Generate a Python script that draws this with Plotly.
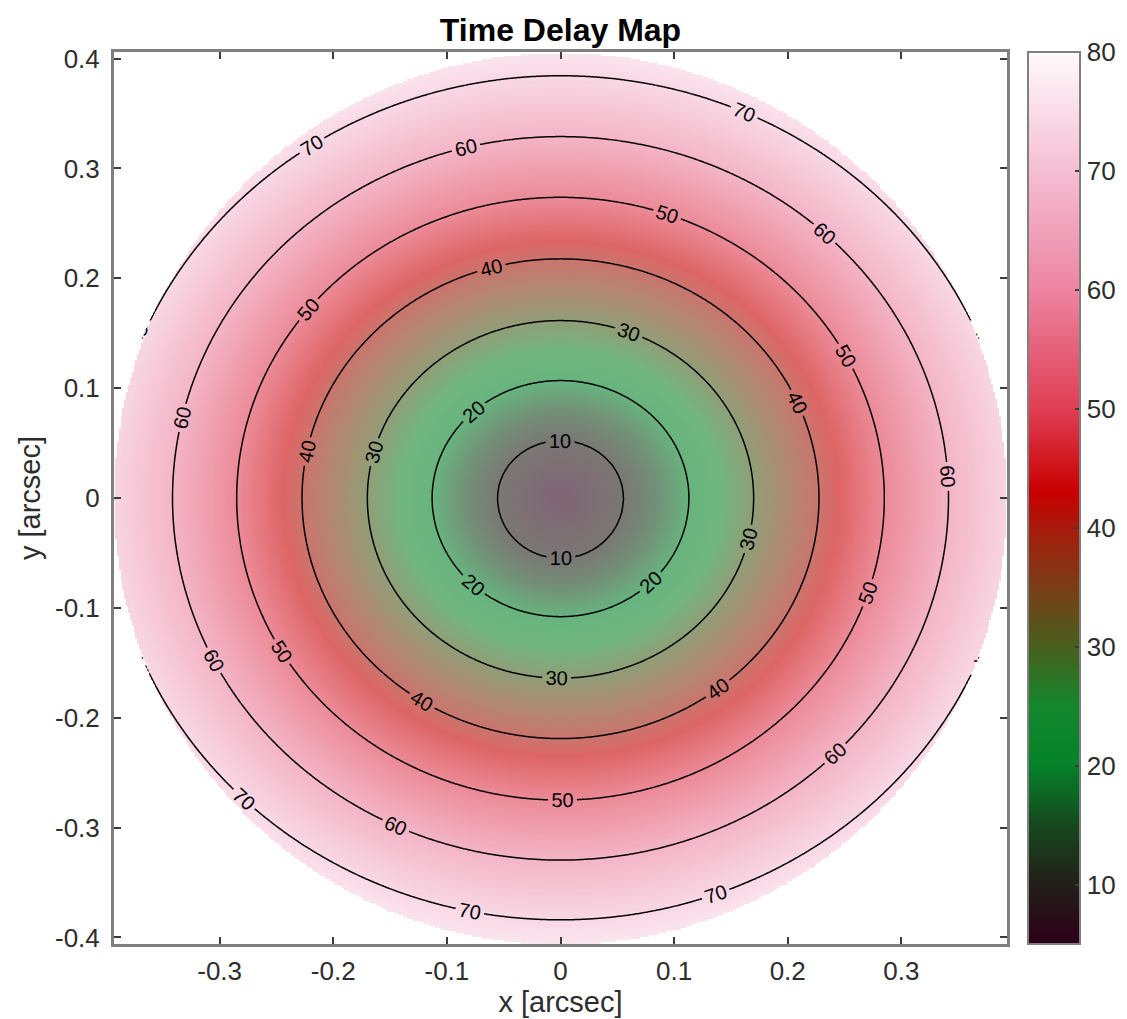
import numpy as np
import plotly.graph_objects as go

# Time-delay contour levels and the semi-axes of each contour ellipse [arcsec]
levels = [10, 20, 30, 40, 50, 60, 70]
semi_x = [0.0555, 0.113, 0.170, 0.2275, 0.285, 0.3415, 0.398]
semi_y_top = [0.0523, 0.1069, 0.1615, 0.2177, 0.2737, 0.329, 0.3844]
semi_y_bottom = [0.055, 0.108, 0.164, 0.219, 0.275, 0.3296, 0.384]
center_delay = 4.5

# Map extent (field of view is the inscribed ellipse of the box)
x_half = 0.393
y_half = 0.406

# Colour bar anchors (delay value, rgb)
cmap_values = [5, 10, 15, 20, 25, 30, 35, 40, 43, 50, 60, 70, 80]
cmap_colors = [
    (45, 0, 25), (35, 30, 25), (22, 72, 30), (4, 130, 42), (20, 135, 45),
    (72, 95, 30), (122, 62, 22), (168, 26, 12), (200, 0, 0), (224, 62, 84),
    (237, 132, 162), (245, 190, 211), (255, 250, 252),
]

x_ticks = [-0.3, -0.2, -0.1, 0, 0.1, 0.2, 0.3]
x_tick_text = ["-0.3", "-0.2", "-0.1", "0", "0.1", "0.2", "0.3"]
y_ticks = [-0.4, -0.3, -0.2, -0.1, 0, 0.1, 0.2, 0.3, 0.4]
y_tick_text = ["-0.4", "-0.3", "-0.2", "-0.1", "0", "0.1", "0.2", "0.3", "0.4"]
cb_ticks = [10, 20, 30, 40, 50, 60, 70, 80]

# ---- build the delay field on a grid: piecewise-linear along rays between contour ellipses
xs = np.linspace(-x_half, x_half, 481)
ys = np.linspace(-y_half, y_half, 497)
X, Y = np.meshgrid(xs, ys)
R = np.hypot(X, Y)
Rs = np.where(R == 0, 1e-9, R)
cos_t, sin_t = X / Rs, Y / Rs

radii = [np.zeros_like(R)]
for a, bt, bb in zip(semi_x, semi_y_top, semi_y_bottom):
    b = np.where(Y >= 0, bt, bb)
    radii.append(1.0 / np.sqrt((cos_t / a) ** 2 + (sin_t / b) ** 2))
vals = [center_delay] + levels

Z = np.empty_like(R)
for i in range(len(vals) - 1):
    r0, r1 = radii[i], radii[i + 1]
    seg = (R >= r0) & (R < r1)
    Z[seg] = (vals[i] + (vals[i + 1] - vals[i]) * (R - r0) / (r1 - r0))[seg]
r0, r1 = radii[-2], radii[-1]
outer = R >= r1
Z[outer] = (vals[-1] + (vals[-1] - vals[-2]) * (R - r1) / (r1 - r0))[outer]
Z = np.round(Z, 2)

rho = np.sqrt((X / x_half) ** 2 + (Y / y_half) ** 2)
Z_map = np.where(rho <= 1.0, Z, np.nan)
# contour lines get a sliver of extra room so they run right up to the rim
Z_lines = np.where(rho <= 1.004, Z, np.nan)

lo, hi = cmap_values[0], cmap_values[-1]
colorscale = [[(v - lo) / (hi - lo), "rgb(%d,%d,%d)" % c] for v, c in zip(cmap_values, cmap_colors)]

font_family = "Liberation Sans, Arial, sans-serif"
axis_grey = "rgb(128,128,128)"
text_grey = "rgb(45,45,45)"

# contour level list runs far below the data range: those empty levels only
# tighten plotly's label spacing so each ring carries several labels
step = levels[1] - levels[0]
label_start = levels[-1] - 71 * step

fig = go.Figure()
fig.add_trace(go.Heatmap(
    x=xs, y=ys, z=Z_map, zmin=lo, zmax=hi, colorscale=colorscale,
    opacity=0.6, zsmooth="best", hoverinfo="skip",
    colorbar=dict(
        x=1.0235, xanchor="left", xpad=0, y=0.5, yanchor="middle", ypad=0,
        len=1.0, lenmode="fraction", thickness=52, thicknessmode="pixels",
        outlinecolor=axis_grey, outlinewidth=2,
        tickmode="array", tickvals=cb_ticks, ticktext=[str(t) for t in cb_ticks],
        ticks="inside", ticklen=6, tickwidth=1.5, tickcolor="rgb(60,60,60)",
        tickfont=dict(family=font_family, size=26, color=text_grey),
    ),
))
fig.add_trace(go.Contour(
    x=xs, y=ys, z=Z_lines, showscale=False, hoverinfo="skip",
    contours=dict(start=label_start, end=levels[-1], size=step, coloring="none", showlabels=True,
                  labelfont=dict(family=font_family, size=20, color="black")),
    line=dict(color="black", width=1.5),
))

axis_common = dict(
    showgrid=False, zeroline=False, showline=True, linecolor=axis_grey, linewidth=3,
    mirror="ticks", ticks="inside", ticklen=7, tickwidth=1.5, tickcolor="rgb(60,60,60)",
    tickfont=dict(family=font_family, size=26, color=text_grey),
)
fig.update_layout(
    width=1127, height=1019,
    margin=dict(l=114, r=120, t=52, b=75, autoexpand=False),
    paper_bgcolor="white", plot_bgcolor="white",
    title=dict(text="<b>Time Delay Map</b>", x=(114 + 1007) / 2 / 1127, xanchor="center",
               y=1 - 30 / 1019, yanchor="middle", yref="container",
               font=dict(family=font_family, size=32, color="black")),
    xaxis=dict(range=[-x_half, x_half], tickmode="array", tickvals=x_ticks, ticktext=x_tick_text,
               ticklabelstandoff=2,
               title=dict(text="x [arcsec]", standoff=6,
                          font=dict(family=font_family, size=29, color=text_grey)),
               **axis_common),
    yaxis=dict(range=[-y_half, y_half], tickmode="array", tickvals=y_ticks, ticktext=y_tick_text,
               ticklabelstandoff=6,
               title=dict(text="y [arcsec]", standoff=6,
                          font=dict(family=font_family, size=29, color=text_grey)),
               **axis_common),
)

fig.write_html("out.html")
